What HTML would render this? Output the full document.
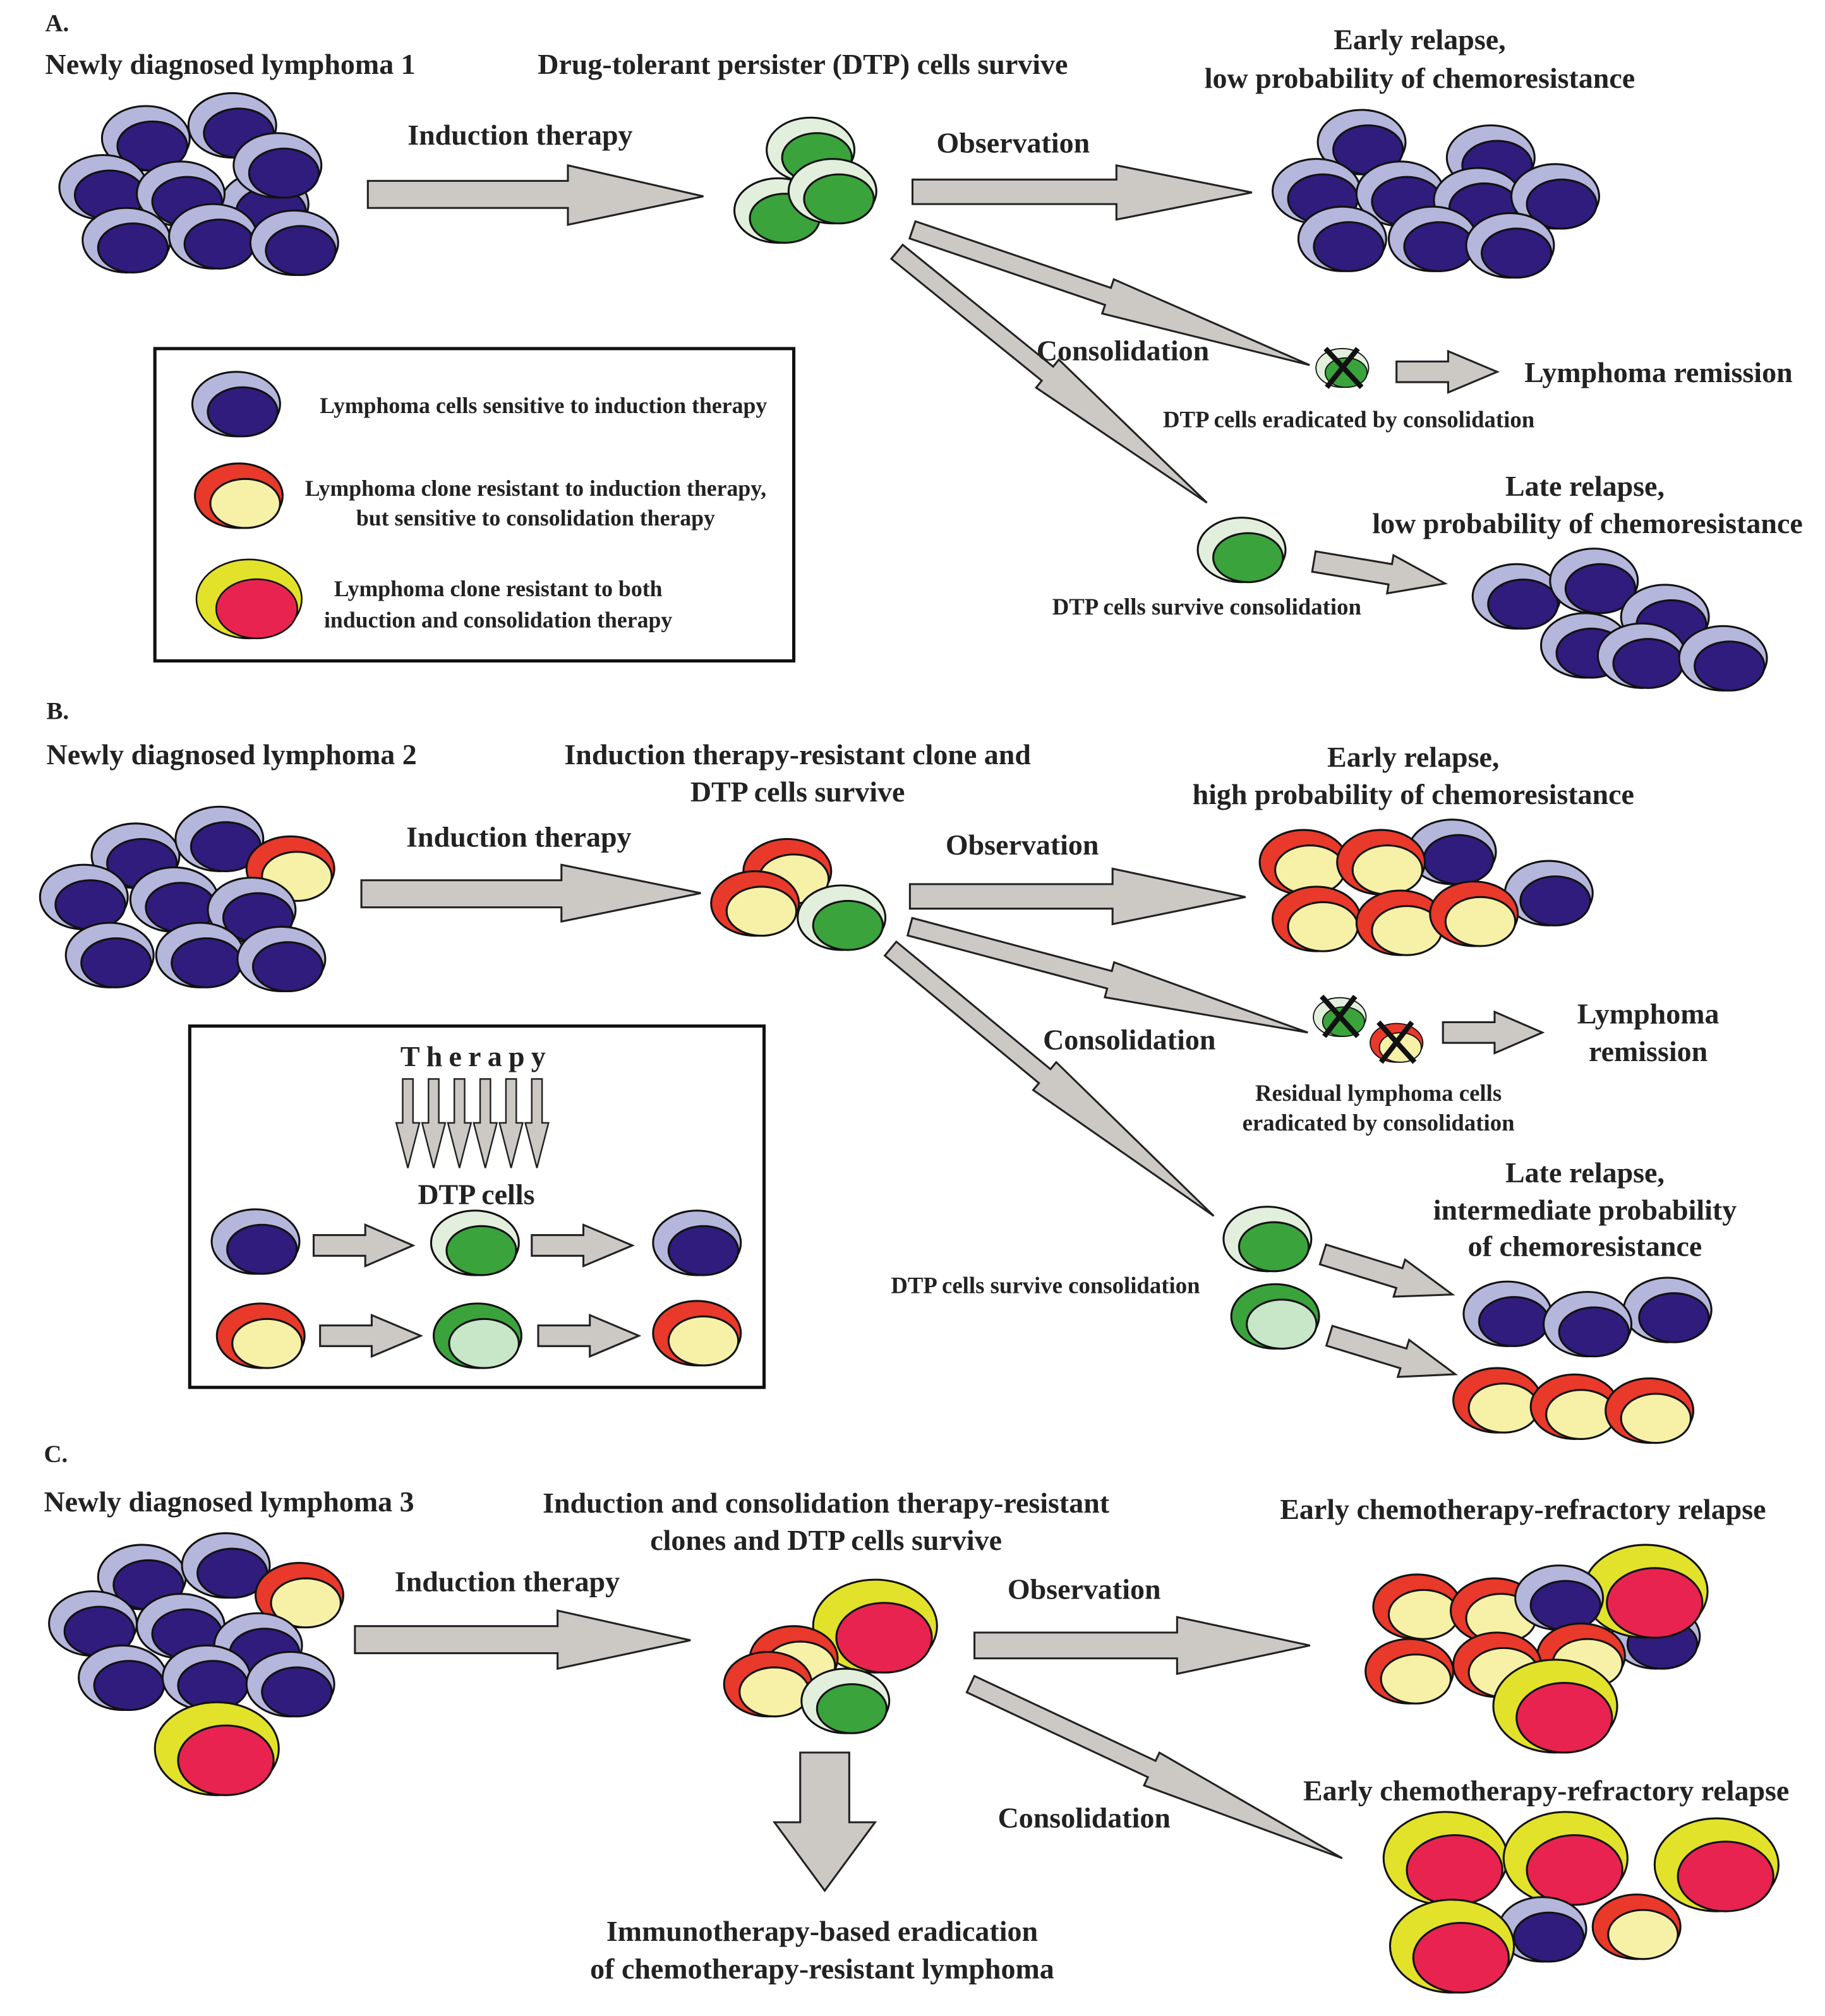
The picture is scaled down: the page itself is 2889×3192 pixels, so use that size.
<!DOCTYPE html>
<html><head><meta charset="utf-8"><style>
html,body{margin:0;padding:0;background:#fff}
svg{display:block}
text{font-family:"Liberation Serif",serif;font-weight:bold;fill:#222}
</style></head><body>
<svg width="2889" height="3192" viewBox="0 0 1414 1562" xmlns="http://www.w3.org/2000/svg">
<defs>
<g id="bl"><ellipse rx="34" ry="25" fill="#b4b6dc" stroke="#111" stroke-width="1.5"/><ellipse cx="5" cy="6" rx="27" ry="19" fill="#2f1c7c" stroke="#111" stroke-width="1.5"/></g>
<g id="dt"><ellipse rx="34" ry="25" fill="#e2efdc" stroke="#111" stroke-width="1.5"/><ellipse cx="5" cy="6" rx="27" ry="19" fill="#3aa33c" stroke="#111" stroke-width="1.5"/></g>
<g id="rd"><ellipse rx="34" ry="25" fill="#e8392a" stroke="#111" stroke-width="1.5"/><ellipse cx="5" cy="6" rx="27" ry="19" fill="#f6f1a6" stroke="#111" stroke-width="1.5"/></g>
<g id="yl"><ellipse rx="48" ry="36" fill="#e2e22a" stroke="#111" stroke-width="1.5"/><ellipse cx="7" cy="9" rx="37" ry="27" fill="#e8234f" stroke="#111" stroke-width="1.5"/></g>
<g id="iv"><ellipse rx="34" ry="25" fill="#3aa33c" stroke="#111" stroke-width="1.5"/><ellipse cx="5" cy="6" rx="27" ry="19" fill="#c8e6c8" stroke="#111" stroke-width="1.5"/></g>
</defs>
<g font-size="22.5">
<!-- Panel A -->
<text x="35" y="24" font-size="19">A.</text>
<text x="35" y="57">Newly diagnosed lymphoma 1</text>
<use href="#bl" x="113" y="107"/><use href="#bl" x="180" y="97"/><use href="#bl" x="205" y="158"/><use href="#bl" x="80" y="145"/><use href="#bl" x="140" y="150"/><use href="#bl" x="215" y="128"/><use href="#bl" x="98" y="186"/><use href="#bl" x="165" y="183"/><use href="#bl" x="228" y="188"/>
<polygon points="285,140 440,140 440,128 545,152 440,174 440,161 285,161" fill="#ccc9c4" stroke="#222" stroke-width="1.5"/>
<text x="403" y="112" text-anchor="middle">Induction therapy</text>
<text x="622" y="57" text-anchor="middle">Drug-tolerant persister (DTP) cells survive</text>
<use href="#dt" x="628" y="116"/><use href="#dt" x="603" y="163"/><use href="#dt" x="645" y="148"/>
<polygon points="707,139 865,139 865,128 970,149 865,170 865,158 707,158" fill="#ccc9c4" stroke="#222" stroke-width="1.5"/>
<text x="785" y="118" text-anchor="middle">Observation</text>
<text x="1100" y="38" text-anchor="middle">Early relapse,</text>
<text x="1100" y="68" text-anchor="middle">low probability of chemoresistance</text>
<use href="#bl" x="1055" y="110"/><use href="#bl" x="1155" y="122"/><use href="#bl" x="1020" y="148"/><use href="#bl" x="1085" y="150"/><use href="#bl" x="1145" y="155"/><use href="#bl" x="1205" y="152"/><use href="#bl" x="1040" y="185"/><use href="#bl" x="1110" y="185"/><use href="#bl" x="1170" y="190"/>
<polygon transform="translate(707,178) rotate(18.8)" points="0,-7 160,-7 160,-14 325,0 160,14 160,7 0,7" fill="#ccc9c4" stroke="#222" stroke-width="1.5"/>
<polygon transform="translate(695,195) rotate(39)" points="0,-7 150,-7 150,-14 309,0 150,14 150,7 0,7" fill="#ccc9c4" stroke="#222" stroke-width="1.5"/>
<text x="870" y="279" text-anchor="middle">Consolidation</text>
<g transform="translate(1040,285) scale(0.6)"><use href="#dt"/></g>
<line x1="1027" y1="270" x2="1055" y2="300" stroke="#111" stroke-width="4"/><line x1="1052" y1="270" x2="1028" y2="300" stroke="#111" stroke-width="4"/>
<polygon points="1082,280 1122,280 1122,272 1160,288 1122,304 1122,296 1082,296" fill="#ccc9c4" stroke="#222" stroke-width="1.5"/>
<text x="1285" y="296" text-anchor="middle">Lymphoma remission</text>
<text x="1045" y="331" text-anchor="middle" font-size="18">DTP cells eradicated by consolidation</text>
<use href="#dt" x="962" y="426"/>
<text x="935" y="476" text-anchor="middle" font-size="18">DTP cells survive consolidation</text>
<polygon transform="translate(1018,435) rotate(9.5)" points="0,-8 60,-8 60,-15 103,0 60,15 60,8 0,8" fill="#ccc9c4" stroke="#222" stroke-width="1.5"/>
<text x="1228" y="384" text-anchor="middle">Late relapse,</text>
<text x="1230" y="413" text-anchor="middle">low probability of chemoresistance</text>
<use href="#bl" x="1175" y="462"/><use href="#bl" x="1235" y="450"/><use href="#bl" x="1290" y="478"/><use href="#bl" x="1228" y="500"/><use href="#bl" x="1272" y="508"/><use href="#bl" x="1335" y="510"/>
<rect x="120" y="270" width="495" height="242" fill="none" stroke="#111" stroke-width="2.5"/>
<use href="#bl" x="183" y="313"/>
<text x="421" y="320" text-anchor="middle" font-size="17.5">Lymphoma cells sensitive to induction therapy</text>
<use href="#rd" x="185" y="384"/>
<text x="415" y="384" text-anchor="middle" font-size="17.5">Lymphoma clone resistant to induction therapy,</text>
<text x="415" y="407" text-anchor="middle" font-size="17.5">but sensitive to consolidation therapy</text>
<g transform="translate(193,464) scale(0.85)"><use href="#yl"/></g>
<text x="386" y="462" text-anchor="middle" font-size="17.5">Lymphoma clone resistant to both</text>
<text x="386" y="486" text-anchor="middle" font-size="17.5">induction and consolidation therapy</text>

<!-- Panel B -->
<text x="36" y="557" font-size="19">B.</text>
<text x="36" y="592">Newly diagnosed lymphoma 2</text>
<use href="#bl" x="105" y="663"/><use href="#bl" x="170" y="650"/><use href="#rd" x="225" y="673"/><use href="#bl" x="65" y="695"/><use href="#bl" x="135" y="697"/><use href="#bl" x="195" y="705"/><use href="#bl" x="85" y="740"/><use href="#bl" x="155" y="740"/><use href="#bl" x="218" y="743"/>
<polygon points="280,682 435,682 435,670 543,692 435,714 435,703 280,703" fill="#ccc9c4" stroke="#222" stroke-width="1.5"/>
<text x="402" y="656" text-anchor="middle">Induction therapy</text>
<text x="618" y="592" text-anchor="middle">Induction therapy-resistant clone and</text>
<text x="618" y="621" text-anchor="middle">DTP cells survive</text>
<use href="#rd" x="610" y="675"/><use href="#rd" x="585" y="700"/><use href="#dt" x="652" y="711"/>
<polygon points="705,685 862,685 862,673 965,695 862,716 862,704 705,704" fill="#ccc9c4" stroke="#222" stroke-width="1.5"/>
<text x="792" y="662" text-anchor="middle">Observation</text>
<text x="1095" y="594" text-anchor="middle">Early relapse,</text>
<text x="1095" y="623" text-anchor="middle">high probability of chemoresistance</text>
<use href="#bl" x="1125" y="660"/><use href="#bl" x="1200" y="692"/><use href="#rd" x="1010" y="668"/><use href="#rd" x="1070" y="668"/><use href="#rd" x="1020" y="712"/><use href="#rd" x="1085" y="715"/><use href="#rd" x="1142" y="708"/>
<polygon transform="translate(705,718) rotate(14.9)" points="0,-7 160,-7 160,-14 319,0 160,14 160,7 0,7" fill="#ccc9c4" stroke="#222" stroke-width="1.5"/>
<polygon transform="translate(690,735) rotate(39.6)" points="0,-7 155,-7 155,-14 325,0 155,14 155,7 0,7" fill="#ccc9c4" stroke="#222" stroke-width="1.5"/>
<text x="875" y="813" text-anchor="middle">Consolidation</text>
<g transform="translate(1038,788) scale(0.6)"><use href="#dt"/></g>
<line x1="1024" y1="772" x2="1052" y2="803" stroke="#111" stroke-width="4"/><line x1="1050" y1="772" x2="1026" y2="803" stroke="#111" stroke-width="4"/>
<g transform="translate(1082,808) scale(0.6)"><use href="#rd"/></g>
<line x1="1068" y1="792" x2="1096" y2="823" stroke="#111" stroke-width="4"/><line x1="1094" y1="792" x2="1070" y2="823" stroke="#111" stroke-width="4"/>
<polygon points="1118,792 1158,792 1158,784 1195,800 1158,816 1158,808 1118,808" fill="#ccc9c4" stroke="#222" stroke-width="1.5"/>
<text x="1277" y="793" text-anchor="middle">Lymphoma</text>
<text x="1277" y="822" text-anchor="middle">remission</text>
<text x="1068" y="853" text-anchor="middle" font-size="18">Residual lymphoma cells</text>
<text x="1068" y="876" text-anchor="middle" font-size="18">eradicated by consolidation</text>
<text x="1228" y="916" text-anchor="middle">Late relapse,</text>
<text x="1228" y="945" text-anchor="middle">intermediate probability</text>
<text x="1228" y="973" text-anchor="middle">of chemoresistance</text>
<use href="#dt" x="982" y="960"/><use href="#iv" x="988" y="1020"/>
<text x="810" y="1002" text-anchor="middle" font-size="18">DTP cells survive consolidation</text>
<polygon transform="translate(1025,972) rotate(17.2)" points="0,-8 62,-8 62,-15 105,0 62,15 62,8 0,8" fill="#ccc9c4" stroke="#222" stroke-width="1.5"/>
<polygon transform="translate(1030,1035) rotate(17)" points="0,-8 60,-8 60,-15 102,0 60,15 60,8 0,8" fill="#ccc9c4" stroke="#222" stroke-width="1.5"/>
<use href="#bl" x="1168" y="1018"/><use href="#bl" x="1292" y="1015"/><use href="#bl" x="1230" y="1026"/>
<use href="#rd" x="1160" y="1085"/><use href="#rd" x="1220" y="1090"/><use href="#rd" x="1278" y="1093"/>
<rect x="147" y="795" width="445" height="280" fill="none" stroke="#111" stroke-width="2.5"/>
<text x="369" y="826" text-anchor="middle" letter-spacing="5">Therapy</text>
<g fill="#ccc9c4" stroke="#222" stroke-width="1.2">
<polygon points="312,836 320,836 320,870 325,870 316,905 307,870 312,870"/>
<polygon points="332,836 340,836 340,870 345,870 336,905 327,870 332,870"/>
<polygon points="352,836 360,836 360,870 365,870 356,905 347,870 352,870"/>
<polygon points="372,836 380,836 380,870 385,870 376,905 367,870 372,870"/>
<polygon points="392,836 400,836 400,870 405,870 396,905 387,870 392,870"/>
<polygon points="412,836 420,836 420,870 425,870 416,905 407,870 412,870"/>
</g>
<text x="369" y="933" text-anchor="middle">DTP cells</text>
<use href="#bl" x="198" y="962"/><use href="#dt" x="368" y="963"/><use href="#bl" x="540" y="963"/>
<use href="#rd" x="202" y="1035"/><use href="#iv" x="370" y="1035"/><use href="#rd" x="540" y="1033"/>
<polygon points="243,957 283,957 283,949 320,965 283,981 283,973 243,973" fill="#ccc9c4" stroke="#222" stroke-width="1.5"/>
<polygon points="412,957 452,957 452,949 490,965 452,981 452,973 412,973" fill="#ccc9c4" stroke="#222" stroke-width="1.5"/>
<polygon points="248,1027 288,1027 288,1019 326,1035 288,1051 288,1043 248,1043" fill="#ccc9c4" stroke="#222" stroke-width="1.5"/>
<polygon points="417,1027 457,1027 457,1019 495,1035 457,1051 457,1043 417,1043" fill="#ccc9c4" stroke="#222" stroke-width="1.5"/>

<!-- Panel C -->
<text x="34" y="1133" font-size="19">C.</text>
<text x="34" y="1171">Newly diagnosed lymphoma 3</text>
<use href="#bl" x="110" y="1222"/><use href="#bl" x="175" y="1213"/><use href="#rd" x="232" y="1236"/><use href="#bl" x="72" y="1258"/><use href="#bl" x="140" y="1260"/><use href="#bl" x="200" y="1275"/><use href="#bl" x="95" y="1300"/><use href="#bl" x="160" y="1300"/><use href="#bl" x="225" y="1305"/>
<use href="#yl" x="168" y="1355"/>
<polygon points="275,1260 432,1260 432,1248 535,1271 432,1293 432,1281 275,1281" fill="#ccc9c4" stroke="#222" stroke-width="1.5"/>
<text x="393" y="1233" text-anchor="middle">Induction therapy</text>
<text x="640" y="1172" text-anchor="middle">Induction and consolidation therapy-resistant</text>
<text x="640" y="1201" text-anchor="middle">clones and DTP cells survive</text>
<use href="#yl" x="678" y="1260"/><use href="#rd" x="615" y="1285"/><use href="#rd" x="595" y="1305"/><use href="#dt" x="655" y="1318"/>
<polygon points="755,1265 912,1265 912,1253 1015,1275 912,1297 912,1285 755,1285" fill="#ccc9c4" stroke="#222" stroke-width="1.5"/>
<text x="840" y="1239" text-anchor="middle">Observation</text>
<text x="1180" y="1177" text-anchor="middle">Early chemotherapy-refractory relapse</text>
<use href="#rd" x="1098" y="1245"/><use href="#rd" x="1158" y="1248"/><use href="#bl" x="1283" y="1268"/><use href="#yl" x="1275" y="1233"/><use href="#bl" x="1208" y="1238"/><use href="#rd" x="1225" y="1283"/><use href="#rd" x="1092" y="1295"/><use href="#rd" x="1160" y="1290"/><use href="#yl" x="1205" y="1322"/>
<polygon transform="translate(752,1305) rotate(25.1)" points="0,-7 155,-7 155,-14 318,0 155,14 155,7 0,7" fill="#ccc9c4" stroke="#222" stroke-width="1.5"/>
<text x="840" y="1416" text-anchor="middle">Consolidation</text>
<text x="1198" y="1395" text-anchor="middle">Early chemotherapy-refractory relapse</text>
<use href="#yl" x="1120" y="1440"/><use href="#yl" x="1213" y="1440"/><use href="#yl" x="1330" y="1445"/><use href="#bl" x="1195" y="1495"/><use href="#rd" x="1268" y="1493"/><use href="#yl" x="1125" y="1508"/>
<polygon points="620,1358 658,1358 658,1412 678,1412 639,1465 600,1412 620,1412" fill="#ccc9c4" stroke="#222" stroke-width="1.5"/>
<text x="637" y="1504" text-anchor="middle">Immunotherapy-based eradication</text>
<text x="637" y="1533" text-anchor="middle">of chemotherapy-resistant lymphoma</text>
</g>
</svg>
</body></html>
